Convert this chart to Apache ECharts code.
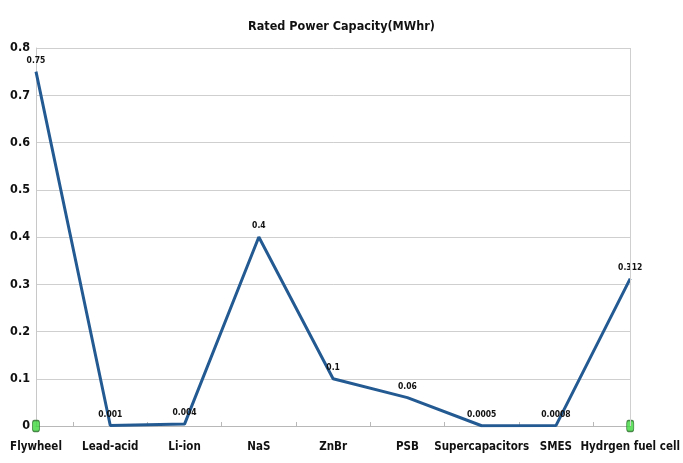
<!DOCTYPE html>
<html>
<head>
<meta charset="utf-8">
<script src="https://cdn.jsdelivr.net/npm/echarts@6/dist/echarts.min.js"></script>
<style>
  html, body { margin: 0; padding: 0; background: #ffffff; }
  #chart { width: 683px; height: 463px; }
</style>
</head>
<body>
<div id="chart"></div>
<script>
// Storage technologies and their rated power capacity (MWhr)
const technologies = ['Flywheel', 'Lead-acid', 'Li-ion', 'NaS', 'ZnBr', 'PSB', 'Supercapacitors', 'SMES', 'Hydrgen fuel cell'];
const capacity = [0.75, 0.001, 0.004, 0.4, 0.1, 0.06, 0.0005, 0.0008, 0.312];
// Small green end markers sitting on the zero line
const endMarkers = [0, null, null, null, null, null, null, null, 0];
const yTicks = { min: 0, max: 0.8, interval: 0.1 };

const FONT = '"DejaVu Sans Condensed", "Liberation Sans Narrow", sans-serif';

const chart = echarts.init(document.getElementById('chart'));
chart.setOption({
  animation: false,
  backgroundColor: '#ffffff',
  title: {
    text: 'Rated Power Capacity(MWhr)',
    left: 'center',
    top: 15,
    textStyle: { fontFamily: FONT, fontSize: 12.5, fontWeight: 'bold', color: '#111' }
  },
  grid: { left: 36, right: 52, top: 48, bottom: 37, containLabel: false },
  xAxis: [
    {
      type: 'category',
      data: technologies,
      boundaryGap: false,
      axisLine: { show: true, lineStyle: { color: '#b8b8b8', width: 1 } },
      axisTick: { show: false },
      axisLabel: {
        interval: 0,
        fontFamily: FONT, fontSize: 11.5, fontWeight: 'bold', color: '#111', margin: 15
      },
      splitLine: { show: false }
    },
    {
      // empty bands whose centres mark the midpoints between categories
      type: 'category',
      data: ['', '', '', '', '', '', '', ''],
      boundaryGap: true,
      position: 'bottom',
      axisLine: { show: false },
      axisTick: { show: true, alignWithLabel: true, inside: true, length: 4, lineStyle: { color: '#b8b8b8' } },
      axisLabel: { show: false },
      splitLine: { show: false }
    }
  ],
  yAxis: {
    type: 'value',
    min: yTicks.min,
    max: yTicks.max,
    interval: yTicks.interval,
    axisLine: { show: true, lineStyle: { color: '#c8c8c8', width: 1 } },
    axisTick: { show: false },
    axisLabel: {
      fontFamily: FONT, fontSize: 12.5, fontWeight: 'bold', color: '#111', margin: 6,
      formatter: v => String(Math.round(v * 10) / 10)
    },
    splitLine: { show: true, lineStyle: { color: '#cfcfcf', width: 1 } }
  },
  series: [
    {
      name: 'Rated Power Capacity',
      type: 'line',
      data: capacity,
      showSymbol: true,
      symbol: 'circle',
      symbolSize: 1,
      itemStyle: { color: 'rgba(0,0,0,0)', borderWidth: 0 },
      lineStyle: { color: '#245a92', width: 3 },
      label: {
        show: true,
        position: 'top',
        distance: 6,
        fontFamily: FONT,
        fontSize: 8.5,
        fontWeight: 'bold',
        color: '#111',
        formatter: p => String(p.value)
      },
      labelLayout: { hideOverlap: false },
      markLine: {
        silent: true,
        symbol: 'none',
        label: { show: false },
        lineStyle: { color: '#cfcfcf', type: 'solid', width: 1 },
        data: [{ xAxis: technologies[technologies.length - 1] }]
      },
      z: 3
    },
    {
      name: 'ends',
      type: 'scatter',
      data: endMarkers,
      symbol: 'roundRect',
      symbolSize: [7, 11],
      itemStyle: { color: '#3fd83f', borderColor: '#2a6b2a', borderWidth: 1 },
      z: 4
    }
  ]
});
</script>
</body>
</html>
